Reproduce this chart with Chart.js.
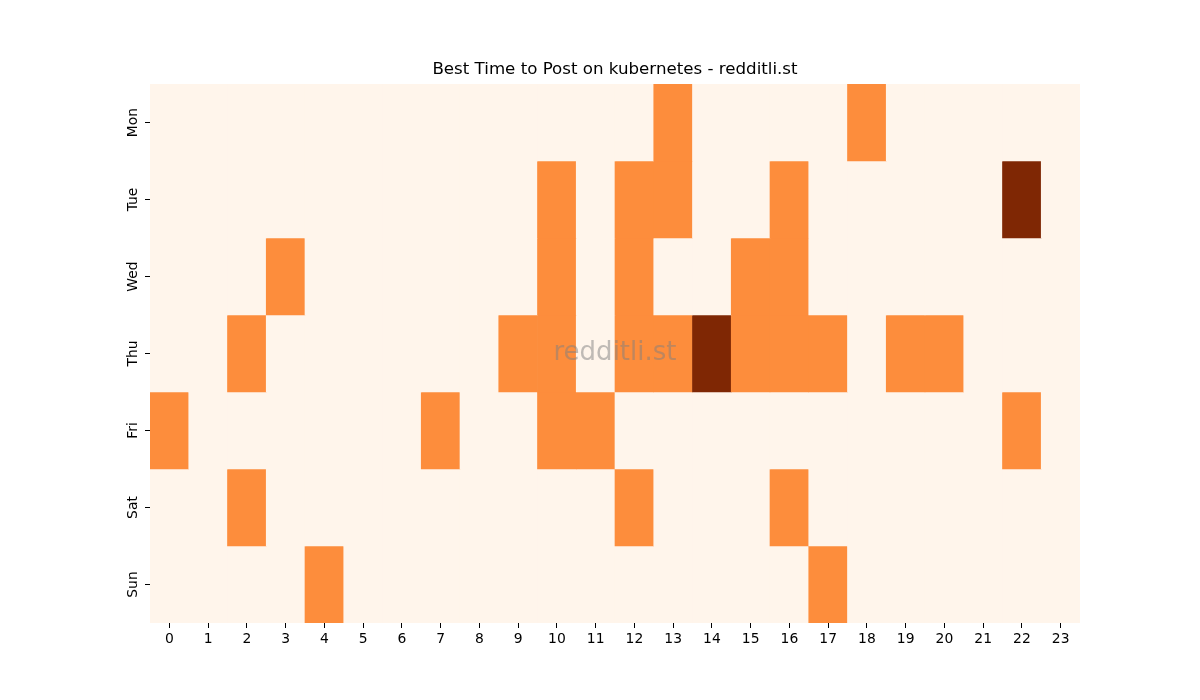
<!DOCTYPE html>
<html>
<head>
<meta charset="utf-8">
<script src="https://cdn.jsdelivr.net/npm/chart.js@4/dist/chart.umd.min.js"></script>
<style>
html,body{margin:0;padding:0;background:#fff;}
#wrap{width:1200px;height:700px;}
</style>
</head>
<body>
<div id="wrap"><canvas id="c" width="1200" height="700"></canvas></div>
<script>
const hours = ["0","1","2","3","4","5","6","7","8","9","10","11","12","13","14","15","16","17","18","19","20","21","22","23"];
const days = ["Mon","Tue","Wed","Thu","Fri","Sat","Sun"];
// values per day (24 hours)
const mon = [0,0,0,0,0,0,0,0,0,0,0,0,0,1,0,0,0,0,1,0,0,0,0,0];
const tue = [0,0,0,0,0,0,0,0,0,0,1,0,1,1,0,0,1,0,0,0,0,0,2,0];
const wed = [0,0,0,1,0,0,0,0,0,0,1,0,1,0,0,1,1,0,0,0,0,0,0,0];
const thu = [0,0,1,0,0,0,0,0,0,1,1,0,1,1,2,1,1,1,0,1,1,0,0,0];
const fri = [1,0,0,0,0,0,0,1,0,0,1,1,0,0,0,0,0,0,0,0,0,0,1,0];
const sat = [0,0,1,0,0,0,0,0,0,0,0,0,1,0,0,0,1,0,0,0,0,0,0,0];
const sun = [0,0,0,0,1,0,0,0,0,0,0,0,0,0,0,0,0,1,0,0,0,0,0,0];
const rows = [mon, tue, wed, thu, fri, sat, sun];
const titleText = 'Best Time to Post on kubernetes - redditli.st';

const palette = ["#fff5eb", "#fd8d3c", "#7f2704"];

const datasets = rows.map((vals, d) => ({
  label: days[d],
  data: vals.map(() => [d, d + 1]),
  backgroundColor: vals.map(v => palette[v]),
  borderWidth: 0,
  borderSkipped: false,
  grouped: false,
  barPercentage: 1.0,
  categoryPercentage: 1.0
}));

const decor = {
  id: 'decor',
  afterDatasetsDraw(chart) {
    const a = chart.chartArea;
    const ctx = chart.ctx;
    ctx.save();
    ctx.font = '26px "DejaVu Sans"';
    ctx.fillStyle = 'rgba(128,128,128,0.5)';
    ctx.textAlign = 'center';
    ctx.textBaseline = 'middle';
    ctx.fillText('redditli.st', (a.left + a.right) / 2, (a.top + a.bottom) / 2);
    ctx.restore();
  },
  afterDraw(chart) {
    const a = chart.chartArea;
    const ctx = chart.ctx;
    const ys = chart.scales.y;
    ctx.save();
    // title
    ctx.font = '16.67px "DejaVu Sans"';
    ctx.fillStyle = '#000';
    ctx.textAlign = 'center';
    ctx.textBaseline = 'middle';
    ctx.fillText(titleText, (a.left + a.right) / 2, 70);
    // y tick labels rotated
    ctx.font = '13.9px "DejaVu Sans"';
    days.forEach((d, i) => {
      const y = ys.getPixelForValue(i + 0.5);
      ctx.save();
      ctx.translate(a.left - 17, y);
      ctx.rotate(-Math.PI / 2);
      ctx.textAlign = 'center';
      ctx.textBaseline = 'middle';
      ctx.fillText(d, 0, 0);
      ctx.restore();
    });
    ctx.restore();
  }
};

Chart.defaults.font.family = '"DejaVu Sans", sans-serif';
Chart.defaults.color = '#000';

new Chart(document.getElementById('c'), {
  type: 'bar',
  data: { labels: hours, datasets },
  options: {
    responsive: false,
    animation: false,
    layout: { padding: { left: 100, right: 120, top: 84, bottom: 47 } },
    plugins: {
      legend: { display: false },
      tooltip: { enabled: false },
      title: { display: false }
    },
    scales: {
      x: {
        type: 'category',
        offset: true,
        grid: { display: true, drawOnChartArea: false, offset: false, tickLength: 5, color: '#000', lineWidth: 1 },
        border: { display: false },
        ticks: { font: { size: 13.9 }, color: '#000', maxRotation: 0, minRotation: 0, padding: 3, autoSkip: false },
        afterFit(s) { s.height = 30; }
      },
      y: {
        type: 'linear',
        min: 0,
        max: 7,
        reverse: true,
        grid: { display: true, drawOnChartArea: false, tickLength: 5, color: '#000', lineWidth: 1 },
        border: { display: false },
        afterBuildTicks(s) { s.ticks = days.map((_, i) => ({ value: i + 0.5 })); },
        ticks: {
          color: 'rgba(0,0,0,0)',
          font: { size: 13.9 },
          callback: (v) => ''
        },
        afterFit(s) { s.width = 50; }
      }
    }
  },
  plugins: [decor]
});
</script>
</body>
</html>
